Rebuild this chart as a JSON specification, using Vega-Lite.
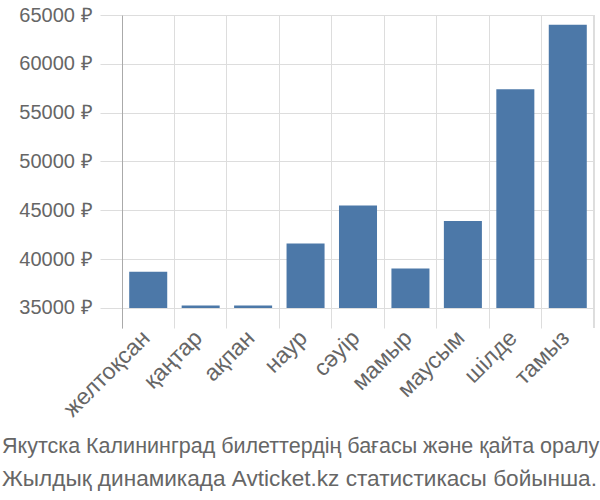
{
  "$schema": "https://vega.github.io/schema/vega-lite/v6.json",
  "autosize": "none",
  "width": 472,
  "height": 313,
  "padding": {"left": 122, "top": 15, "right": 6, "bottom": 172},
  "background": "white",
  "config": {"view": {"stroke": null}, "font": "Liberation Sans"},
  "title": {
    "text": "Якутска Калининград билеттердің бағасы және қайта оралу",
    "subtitle": "Жылдық динамикада Avticket.kz статистикасы бойынша.",
    "orient": "bottom",
    "anchor": "start",
    "frame": "group",
    "dx": -120,
    "font": "Liberation Sans",
    "fontSize": 21.5,
    "fontWeight": "normal",
    "color": "#666",
    "subtitleFont": "Liberation Sans",
    "subtitleFontSize": 22.6,
    "subtitleColor": "#666",
    "subtitlePadding": 11,
    "offset": 15
  },
  "data": {
    "values": [
      {"month": "желтоқсан", "price": 38700},
      {"month": "қаңтар", "price": 35250},
      {"month": "ақпан", "price": 35250},
      {"month": "наур", "price": 41600},
      {"month": "сәуір", "price": 45500},
      {"month": "мамыр", "price": 39050},
      {"month": "маусым", "price": 43900},
      {"month": "шілде", "price": 57400},
      {"month": "тамыз", "price": 64000}
    ]
  },
  "layer": [
    {
      "mark": {"type": "bar", "color": "#4c78a8", "width": {"band": 0.725}},
      "encoding": {
        "x": {
          "field": "month",
          "type": "nominal",
          "sort": null,
          "scale": {"paddingInner": 0, "paddingOuter": 0},
          "axis": {
            "title": null,
            "bandPosition": 0,
            "labelOffset": -2,
            "ticks": false,
            "domain": false,
            "grid": true,
            "gridColor": "#ddd",
            "labelAngle": -45,
            "labelAlign": "right",
            "labelBaseline": "middle",
            "labelFontSize": 23,
            "labelColor": "#666",
            "labelPadding": 6
          }
        },
        "y": {
          "field": "price",
          "type": "quantitative",
          "scale": {"domain": [32950, 65000], "nice": false, "zero": false},
          "axis": {
            "title": null,
            "values": [35000, 40000, 45000, 50000, 55000, 60000, 65000],
            "labelExpr": "datum.value + ' ₽'",
            "domain": true,
            "domainColor": "#aaa",
            "ticks": true,
            "tickColor": "#ddd",
            "tickSize": 22,
            "grid": true,
            "gridColor": "#ddd",
            "labelFontSize": 20,
            "labelColor": "#666",
            "labelPadding": 8
          }
        },
        "y2": {"datum": 35000}
      }
    },
    {
      "mark": {"type": "rule", "color": "#ddd"},
      "encoding": {
        "x": {"datum": "тамыз", "bandPosition": 1}
      }
    }
  ]
}
